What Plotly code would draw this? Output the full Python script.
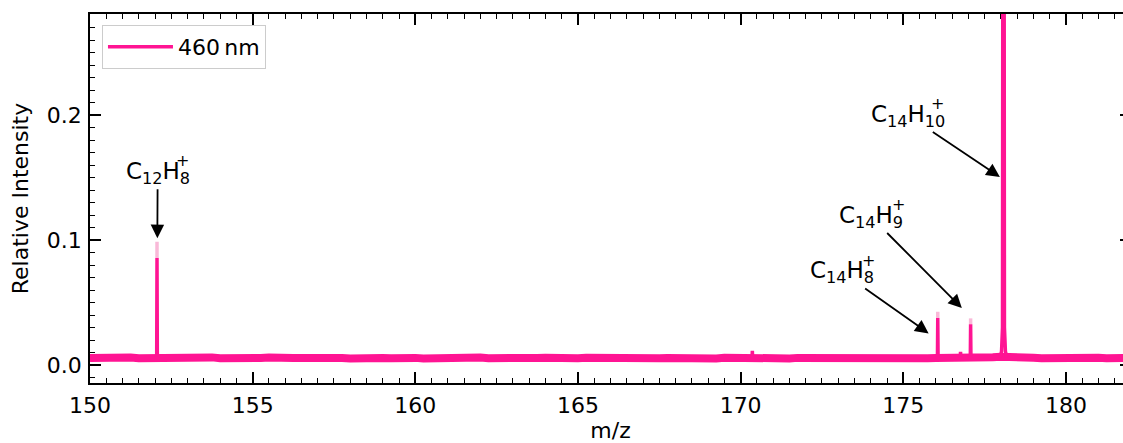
import numpy as np
import plotly.graph_objects as go

# ---------------- data ----------------
baseline_mz = np.arange(150.0, 182.001, 0.25)
baseline_int = [
    0.0056, 0.0059, 0.0053, 0.0057, 0.0055, 0.0060, 0.0054, 0.0056, 0.0058, 0.0052, 0.0057, 0.0055,
    0.0058, 0.0054, 0.0056, 0.0061, 0.0055, 0.0053, 0.0057, 0.0059, 0.0054, 0.0056, 0.0060, 0.0055,
    0.0053, 0.0057, 0.0056, 0.0059, 0.0054, 0.0055, 0.0058, 0.0056, 0.0052, 0.0057, 0.0055, 0.0059,
    0.0056, 0.0054, 0.0058, 0.0055, 0.0057, 0.0053, 0.0056, 0.0059, 0.0055, 0.0054, 0.0057, 0.0056,
    0.0060, 0.0055, 0.0053, 0.0057, 0.0056, 0.0058, 0.0054, 0.0056, 0.0059, 0.0055, 0.0052, 0.0057,
    0.0055, 0.0058, 0.0056, 0.0054, 0.0059, 0.0055, 0.0057, 0.0053, 0.0056, 0.0058, 0.0055, 0.0057,
    0.0054, 0.0056, 0.0059, 0.0055, 0.0057, 0.0053, 0.0058, 0.0056, 0.0055, 0.0060, 0.0054, 0.0056,
    0.0058, 0.0055, 0.0053, 0.0057, 0.0056, 0.0059, 0.0054, 0.0057, 0.0055, 0.0052, 0.0056, 0.0058,
    0.0055, 0.0057, 0.0054, 0.0059, 0.0056, 0.0053, 0.0058, 0.0055, 0.0057, 0.0056, 0.0060, 0.0058,
    0.0056, 0.0059, 0.0061, 0.0063, 0.0066, 0.0060, 0.0057, 0.0055, 0.0058, 0.0054, 0.0056, 0.0059,
    0.0055, 0.0057, 0.0053, 0.0056, 0.0058, 0.0054, 0.0057, 0.0055, 0.0056,
]

# narrow peaks: centre m/z, apex intensity (solid), faint tip intensity
peak_mz = [152.06, 170.36, 176.06, 176.76, 177.07]
peak_int = [0.0856, 0.0114, 0.0376, 0.0106, 0.0325]
tip_int = [0.0986, None, 0.0426, None, 0.0373]

# main (saturated) peak profile
main_mz = [177.98, 178.02, 178.05, 178.08, 178.11, 178.14, 178.18]
main_int = [0.0060, 0.0110, 0.0300, 1.0000, 0.0300, 0.0110, 0.0060]

# annotations: label, arrow tip (m/z, I), text centre (m/z, I)
labels = ["C<sub>12</sub>H<sub>8</sub>", "C<sub>14</sub>H<sub>10</sub>",
          "C<sub>14</sub>H<sub>9</sub>", "C<sub>14</sub>H<sub>8</sub>"]
tip_x = [152.07, 177.97, 176.80, 175.78]
tip_y = [0.1015, 0.1505, 0.0456, 0.0253]
txt_x = [152.08, 175.15, 174.00, 173.11]
txt_y = [0.1538, 0.1996, 0.1188, 0.0744]
plus_dx = [25, 29, 27.5, 26.5]

x_major = [150, 155, 160, 165, 170, 175, 180]
x_mid = [152.5, 157.5, 162.5, 167.5, 172.5, 177.5]
y_major = [0.0, 0.1, 0.2]
y_major_text = ["0.0", "0.1", "0.2"]
y_mid = [0.05, 0.15, 0.25]

x_range = [150, 182]
y_range = [-0.0144, 0.2808]

PINK = "#ff1493"
TIP = "#f9b9d8"
FONT = "DejaVu Sans"
FS = 22

# ---------------- build peak trace ----------------
px, py = [], []
for c, h in zip(peak_mz, peak_int):
    px += [c - 0.01, c, c + 0.01, None]
    py += [0.0056, h, 0.0056, None]
px += main_mz
py += main_int

tx, ty = [], []
for c, h, t in zip(peak_mz, peak_int, tip_int):
    if t is not None:
        tx += [c, c, None]
        ty += [h, t, None]

fig = go.Figure()
fig.add_trace(go.Scatter(x=baseline_mz, y=baseline_int, mode="lines",
                         line=dict(color=PINK, width=8), showlegend=False,
                         hoverinfo="skip"))
fig.add_trace(go.Scatter(x=tx, y=ty, mode="lines", line=dict(color=TIP, width=3.5),
                         showlegend=False, hoverinfo="skip"))
fig.add_trace(go.Scatter(x=px, y=py, mode="lines", line=dict(color=PINK, width=3.5),
                         name="460\u2009nm"))

for lab, x0, y0, x1, y1, dx in zip(labels, tip_x, tip_y, txt_x, txt_y, plus_dx):
    fig.add_annotation(x=x0, y=y0, ax=x1, ay=y1, xref="x", yref="y", axref="x", ayref="y",
                       text=lab, showarrow=True, arrowhead=2, arrowsize=1.5,
                       arrowwidth=1.8, arrowcolor="black", standoff=0,
                       font=dict(family=FONT, size=23, color="black"))
    fig.add_annotation(x=x1, y=y1, xref="x", yref="y", text="+", showarrow=False,
                       xshift=dx, yshift=12,
                       font=dict(family=FONT, size=16, color="black"))

axis_common = dict(showgrid=False, zeroline=False, ticks="inside", tickcolor="black",
                   tickwidth=1.5, color="black")

fig.update_layout(
    width=1132, height=443,
    margin=dict(l=90, r=1, t=14, b=60),
    paper_bgcolor="white", plot_bgcolor="white",
    font=dict(family=FONT, size=FS, color="black"),
    xaxis=dict(range=x_range, tickvals=x_major, ticklen=11, showline=True, linewidth=1.8,
               linecolor="black", mirror="ticks", ticklabelstandoff=2,
               minor=dict(dtick=0.5, tick0=150, ticks="inside", ticklen=5, tickwidth=1.2,
                          tickcolor="black"),
               title=dict(text="m/z", standoff=10, font=dict(size=FS)),
               tickfont=dict(size=FS), automargin=False, **axis_common),
    xaxis2=dict(range=x_range, overlaying="x", anchor="y", tickvals=x_mid, ticklen=8,
                showticklabels=False, showline=False, mirror="ticks", **axis_common),
    yaxis=dict(range=y_range, tickvals=y_major, ticktext=y_major_text, ticklen=11,
               showline=True, linewidth=1.8, linecolor="black", mirror="ticks",
               ticklabelstandoff=2,
               minor=dict(dtick=0.01, tick0=0, ticks="inside", ticklen=5, tickwidth=1.2,
                          tickcolor="black"),
               title=dict(text="Relative Intensity", standoff=12, font=dict(size=FS)),
               tickfont=dict(size=FS), automargin=False, **axis_common),
    yaxis2=dict(range=y_range, overlaying="y", anchor="x", tickvals=y_mid, ticklen=8,
                showticklabels=False, showline=False, mirror="ticks", **axis_common),
    legend=dict(x=0.0115, y=0.97, xanchor="left", yanchor="top", bgcolor="white",
                bordercolor="#cccccc", borderwidth=1, font=dict(size=FS),
                itemwidth=65),
    showlegend=True,
)

fig.write_html(
    "out.html",
    config={"displayModeBar": False},
    post_script=("document.body.style.margin='0px';"
                 "document.body.style.overflow='hidden';"
                 "document.documentElement.style.overflow='hidden';"),
)
